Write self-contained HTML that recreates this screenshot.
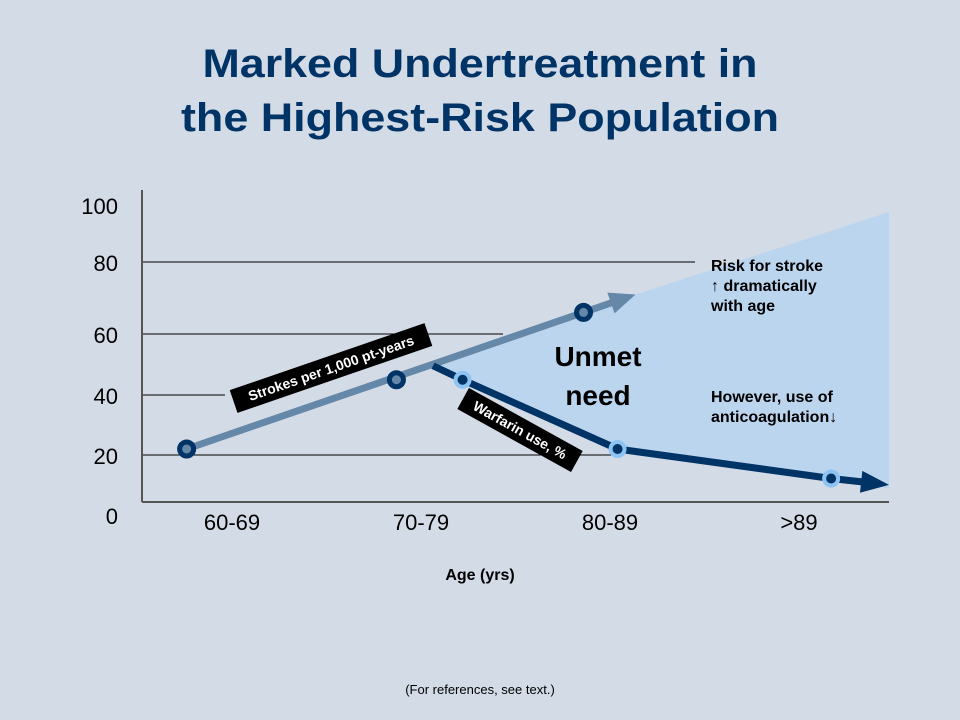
<!DOCTYPE html>
<html><head><meta charset="utf-8"><style>
html,body{margin:0;padding:0;background:#d3dce6;}
svg{display:block;font-family:"Liberation Sans",Arial,sans-serif;}
</style></head><body>
<svg id="chart" width="960" height="720" viewBox="0 0 960 720">
<rect width="960" height="720" fill="#d3dce6"/>
<text x="480" y="77" text-anchor="middle" font-size="40" font-weight="bold" fill="#003366" textLength="555" lengthAdjust="spacingAndGlyphs">Marked Undertreatment in</text>
<text x="480" y="131" text-anchor="middle" font-size="40" font-weight="bold" fill="#003366" textLength="598" lengthAdjust="spacingAndGlyphs">the Highest-Risk Population</text>
<g id="plot"></g>
<text x="480" y="580" text-anchor="middle" font-size="16" font-weight="bold" fill="#000">Age (yrs)</text>
<text x="480" y="694" text-anchor="middle" font-size="13" fill="#000">(For references, see text.)</text>
</svg>
<script>
const categories = ["60-69","70-79","80-89",">89"];
const yTicks = [0,20,40,60,80,100];
const strokeX = [-0.24, 0.87, 1.86];
const strokeVals = [22, 45, 66];
const warfarinX = [1.22, 2.04, 3.17];
const warfarinVals = [45, 22, 10];

const NS="http://www.w3.org/2000/svg";
const plot=document.getElementById('plot');
function mk(tag,attrs,parent){const e=document.createElementNS(NS,tag);for(const k in attrs)e.setAttribute(k,attrs[k]);(parent||plot).appendChild(e);return e;}
// axis scales
const tickPix=[502,455,395,334,262,190];
function yScale(v){
  for(let i=0;i<yTicks.length-1;i++){
    if(v<=yTicks[i+1]||i===yTicks.length-2){
      const t=(v-yTicks[i])/(yTicks[i+1]-yTicks[i]);
      return tickPix[i]+t*(tickPix[i+1]-tickPix[i]);
    }
  }
}
function xScale(i){return 232+i*189;}
const gridEnds=[0,620,225,503,695,0];

// shaded unmet need area
const sx0=xScale(strokeX[0]), sy0=yScale(strokeVals[0]);
const sxl=xScale(strokeX[2]), syl=yScale(strokeVals[2]);
const slope=(syl-sy0)/(sxl-sx0);
const tipX=sxl+52, tipY=syl+52*slope;
const rightX=889;
const wStartX=433, wStartY=yScale(warfarinVals[0])-14;
let pts=`${tipX},${tipY} ${rightX},212 ${rightX},${yScale(warfarinVals[2])+10} `;
for(let i=warfarinX.length-1;i>=0;i--) pts+=`${xScale(warfarinX[i])},${yScale(warfarinVals[i])} `;
pts+=`${wStartX},${wStartY}`;
const area=mk('polygon',{points:pts,fill:'#bcd5ee'});



// gridlines and y labels
yTicks.forEach((v,i)=>{
  const y=yScale(v);
  if(gridEnds[i]>0){
    const g=mk('line',{x1:142,x2:gridEnds[i],y1:y,y2:y,stroke:'#000','stroke-width':1});
    
    
  }
  const ly = v===0 ? 524 : (v===100 ? 214 : y+9);
  const t=mk('text',{x:118,y:ly,'text-anchor':'end','font-size':22,fill:'#000'});
  t.textContent=v;
  
  
});
// axes
const ya=mk('line',{x1:142,x2:142,y1:190,y2:502,stroke:'#555','stroke-width':2});


const xa=mk('line',{x1:142,x2:889,y1:502,y2:502,stroke:'#555','stroke-width':2});


categories.forEach((c,i)=>{
  const t=mk('text',{x:xScale(i),y:530,'text-anchor':'middle','font-size':22,fill:'#000'});
  t.textContent=c;
  
  
});

// stroke series line with arrow
const sLine=mk('polyline',{points:`${sx0},${sy0} ${tipX-14},${tipY-14*slope}`,fill:'none',stroke:'#6688a8','stroke-width':7});


const ang=Math.atan(slope);
function arrowHead(x,y,a,len,w,color,name){
  const bx=x-len*Math.cos(a), by=y-len*Math.sin(a);
  const px=-Math.sin(a)*w, py=Math.cos(a)*w;
  const p=mk('polygon',{points:`${x},${y} ${bx+px},${by+py} ${bx-px},${by-py}`,fill:color});
  
  
}
arrowHead(tipX,tipY,ang,26,11,'#6688a8','strokes-arrowhead');

// warfarin line
let wp=`${wStartX},${wStartY} `;
warfarinX.forEach((x,i)=>wp+=`${xScale(x)},${yScale(warfarinVals[i])} `);
const wEndX=862, lastX=xScale(warfarinX[2]), lastY=yScale(warfarinVals[2]);
const wAng=Math.atan2(6,55);
wp+=`${wEndX},${lastY+(wEndX-lastX)*Math.tan(wAng)}`;
const wLine=mk('polyline',{points:wp,fill:'none',stroke:'#003366','stroke-width':7,'stroke-linejoin':'round'});


arrowHead(889,lastY+(889-lastX)*Math.tan(wAng),wAng,28,11,'#003366','warfarin-arrowhead');

// markers
strokeX.forEach((x,i)=>{
  const c=mk('circle',{cx:xScale(x),cy:yScale(strokeVals[i]),r:7,fill:'#6688a8',stroke:'#003366','stroke-width':5});
  
  
});
warfarinX.forEach((x,i)=>{
  const c=mk('circle',{cx:xScale(x),cy:yScale(warfarinVals[i]),r:7,fill:'#003366',stroke:'#8ec4f4','stroke-width':4});
  
  
});

// series labels
function boxLabel(cx,cy,rot,w,h,text,name){
  const g=mk('g',{transform:`translate(${cx},${cy}) rotate(${rot})`});
  
  
  mk('rect',{x:-w/2,y:-h/2,width:w,height:h,fill:'#000'},g);
  const t=mk('text',{x:0,y:5,'text-anchor':'middle','font-size':14,'font-weight':'bold',fill:'#fff'},g);
  t.textContent=text;
}
boxLabel(331,368,-19,206,24,'Strokes per 1,000 pt-years','strokes-series-label');
boxLabel(520,430,29,130,24,'Warfarin use, %','warfarin-series-label');

// annotations
function txt(x,y,s,size,anchor,name,weight){
  const t=mk('text',{x:x,y:y,'text-anchor':anchor,'font-size':size,'font-weight':weight||'bold',fill:'#000'});
  t.textContent=s;
  
  
}
txt(598,366,'Unmet',28,'middle','unmet-need-label-1');
txt(598,405,'need',28,'middle','unmet-need-label-2');
txt(711,271,'Risk for stroke',16,'start','risk-note-1');
txt(711,291,'\u2191 dramatically',16,'start','risk-note-2');
txt(711,311,'with age',16,'start','risk-note-3');
txt(711,402,'However, use of',16,'start','anticoag-note-1');
txt(711,422,'anticoagulation\u2193',16,'start','anticoag-note-2');
</script>
</body></html>
